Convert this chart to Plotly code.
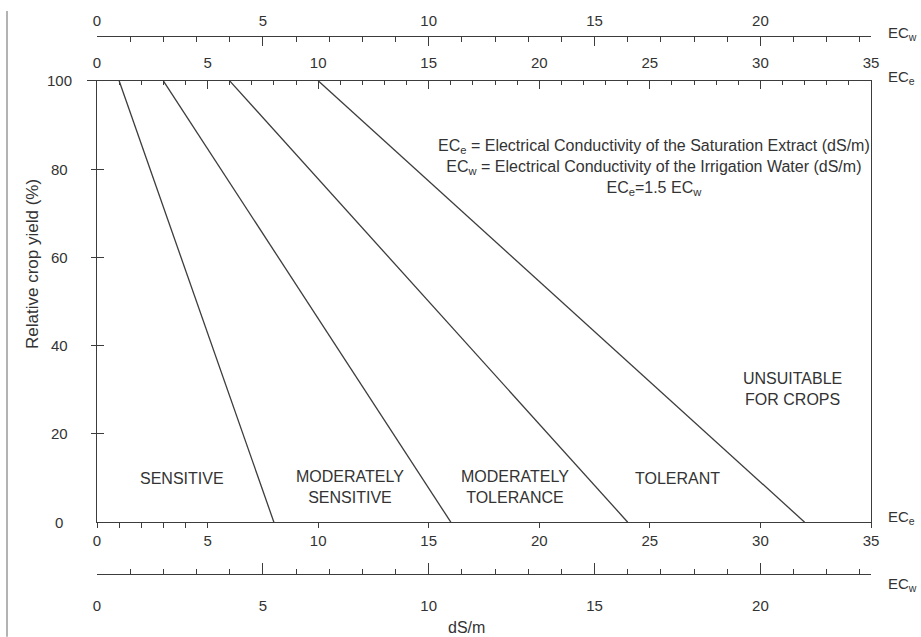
import plotly.graph_objects as go

# ---------------- data ----------------
ece_at_full_yield = [1, 3, 6, 10]      # ECe (dS/m) where relative yield is 100 %
ece_at_zero_yield = [8, 16, 24, 32]    # ECe (dS/m) where relative yield is 0 %
yield_full = 100
yield_zero = 0
region_names = ["SENSITIVE", "MODERATELY<br>SENSITIVE", "MODERATELY<br>TOLERANCE",
                "TOLERANT", "UNSUITABLE<br>FOR CROPS"]
yield_ticks = [0, 20, 40, 60, 80, 100]
ece_max = 35
ece_ticks_labelled = [0, 5, 10, 15, 20, 25, 30, 35]
ece_bottom_minor = [1, 2, 3, 4]
ecw_ticks_labelled = [0, 5, 10, 15, 20]
ece_per_ecw = 1.5
legend_lines = ["EC<sub>e</sub> = Electrical Conductivity of the Saturation Extract (dS/m)",
                "EC<sub>w</sub> = Electrical Conductivity of the Irrigation Water (dS/m)",
                "EC<sub>e</sub>=1.5 EC<sub>w</sub>"]

# ---------------- placement (not data) ----------------
region_pos = [(3.83, 9.9), (11.43, 8.0), (18.92, 8.0), (26.27, 9.9), (31.43, 30.1)]
INK = "#333333"
LINE = "#3c3c3c"
FONT = "Liberation Sans, Arial, Helvetica, sans-serif"
ecw_max = ece_max / ece_per_ecw

fig = go.Figure()
for a, b in zip(ece_at_full_yield, ece_at_zero_yield):
    fig.add_trace(go.Scatter(x=[a, b], y=[yield_full, yield_zero], mode="lines",
                             line=dict(color=LINE, width=1.3), hoverinfo="skip",
                             showlegend=False))
# empty traces so the extra axes get their subplots
for xa, ya in [("x2", "y"), ("x3", "y"), ("x4", "y"), ("x", "y2"), ("x", "y3")]:
    fig.add_trace(go.Scatter(x=[], y=[], xaxis=xa, yaxis=ya, showlegend=False,
                             hoverinfo="skip"))

common = dict(showgrid=False, zeroline=False, showline=True, linecolor=LINE,
              linewidth=1.3, tickcolor=LINE, tickwidth=1.2,
              tickfont=dict(family=FONT, size=15, color=INK))

bottom_vals = sorted(ece_ticks_labelled + ece_bottom_minor)
bottom_text = [str(v) if v in ece_ticks_labelled else "" for v in bottom_vals]

ydom = [(574 - 522) / 540, (574 - 79) / 540]

fig.update_layout(
    width=921, height=637,
    margin=dict(l=97, r=50, t=34, b=63),
    plot_bgcolor="white", paper_bgcolor="white",
    showlegend=False,
    font=dict(family=FONT, size=15, color=INK),
    xaxis=dict(range=[0, ece_max], domain=[0, 1], anchor="y", side="bottom",
               tickmode="array", tickvals=bottom_vals, ticktext=bottom_text,
               ticks="outside", ticklen=5, ticklabelstandoff=0, **common),
    xaxis2=dict(range=[0, ece_max], overlaying="x", anchor="y", side="top",
                tickmode="array", tickvals=ece_ticks_labelled,
                ticks="inside", ticklen=8, ticklabelstandoff=6,
                minor=dict(tickmode="array", tickvals=list(range(0, ece_max + 1)),
                           ticks="inside", ticklen=4, tickcolor=LINE, tickwidth=1.2),
                **common),
    xaxis3=dict(range=[0, ecw_max], overlaying="x", anchor="free", position=1,
                side="top", tickmode="array", tickvals=ecw_ticks_labelled,
                ticks="inside", ticklen=9, ticklabelstandoff=4,
                minor=dict(tickmode="array",
                           tickvals=list(range(0, int(ecw_max) + 1)) + [ecw_max],
                           ticks="inside", ticklen=5, tickcolor=LINE, tickwidth=1.2),
                **common),
    xaxis4=dict(range=[0, ecw_max], overlaying="x", anchor="free", position=0,
                side="bottom", tickmode="array", tickvals=ecw_ticks_labelled,
                ticks="inside", ticklen=11, ticklabelstandoff=18,
                minor=dict(tickmode="array",
                           tickvals=list(range(0, int(ecw_max) + 1)) + [ecw_max],
                           ticks="inside", ticklen=5, tickcolor=LINE, tickwidth=1.2),
                **common),
    yaxis=dict(range=[0, 100], domain=ydom, anchor="x", side="left", mirror=True,
               tickmode="array", tickvals=yield_ticks[1:-1], ticks="outside",
               ticklen=5, showticklabels=False, **common),
    yaxis2=dict(range=[0, 100], overlaying="y", anchor="x", side="left",
                tickmode="array", tickvals=yield_ticks[1:-1], ticks="inside",
                ticklen=7, showticklabels=False,
                **{**common, "showline": False}),
    yaxis3=dict(range=[0, 100], overlaying="y", anchor="x", side="left",
                tickmode="array", tickvals=yield_ticks[-1:], ticks="outside",
                ticklen=9, showticklabels=False,
                **{**common, "showline": False}),
)

# y tick labels (centred, as in the original)
for v in yield_ticks:
    fig.add_annotation(x=0, xref="paper", y=v, yref="y", text=str(v),
                       showarrow=False, xanchor="center", yanchor="middle",
                       xshift=-38, font=dict(family=FONT, size=15, color=INK))

# y title
fig.add_annotation(x=0, xref="paper", y=58.5, yref="y",
                   text="Relative crop yield (%)", textangle=-90, showarrow=False,
                   xanchor="center", yanchor="middle",
                   xshift=-64, font=dict(family=FONT, size=17, color=INK))

# region labels
for name, (px, py) in zip(region_names, region_pos):
    fig.add_annotation(x=px, y=py, xref="x", yref="y", text=name, showarrow=False,
                       align="center", font=dict(family=FONT, size=16, color=INK))

# definition block
fig.add_annotation(x=25.18, y=80.4, xref="x", yref="y",
                   text="<br>".join(legend_lines), showarrow=False, align="center",
                   xanchor="center", yanchor="middle",
                   font=dict(family=FONT, size=16, color=INK))

# axis names at the right
for txt, yp in [("EC<sub>w</sub>", (574 - 31) / 540), ("EC<sub>e</sub>", (574 - 76) / 540),
                ("EC<sub>e</sub>", (574 - 517) / 540), ("EC<sub>w</sub>", (574 - 585) / 540)]:
    fig.add_annotation(x=1, xref="paper", y=yp, yref="paper", text=txt,
                       showarrow=False, xanchor="left", yanchor="middle", xshift=15,
                       font=dict(family=FONT, size=15, color=INK))

# unit label
fig.add_annotation(x=16.72, xref="x", y=(574 - 628) / 540, yref="paper", text="dS/m",
                   showarrow=False, xanchor="center", yanchor="middle",
                   font=dict(family=FONT, size=16, color=INK))

# thin frame line at left edge of the original figure
fig.add_shape(type="line", xref="paper", yref="paper",
              x0=(7 - 97) / 774, x1=(7 - 97) / 774,
              y0=(574 - 637) / 540, y1=(574 - 9) / 540,
              line=dict(color="#9a9a9a", width=1.5))

fig.write_html("out.html",
               config={"displayModeBar": False},
               post_script="document.body.style.margin='0';document.body.style.overflow='hidden';")
